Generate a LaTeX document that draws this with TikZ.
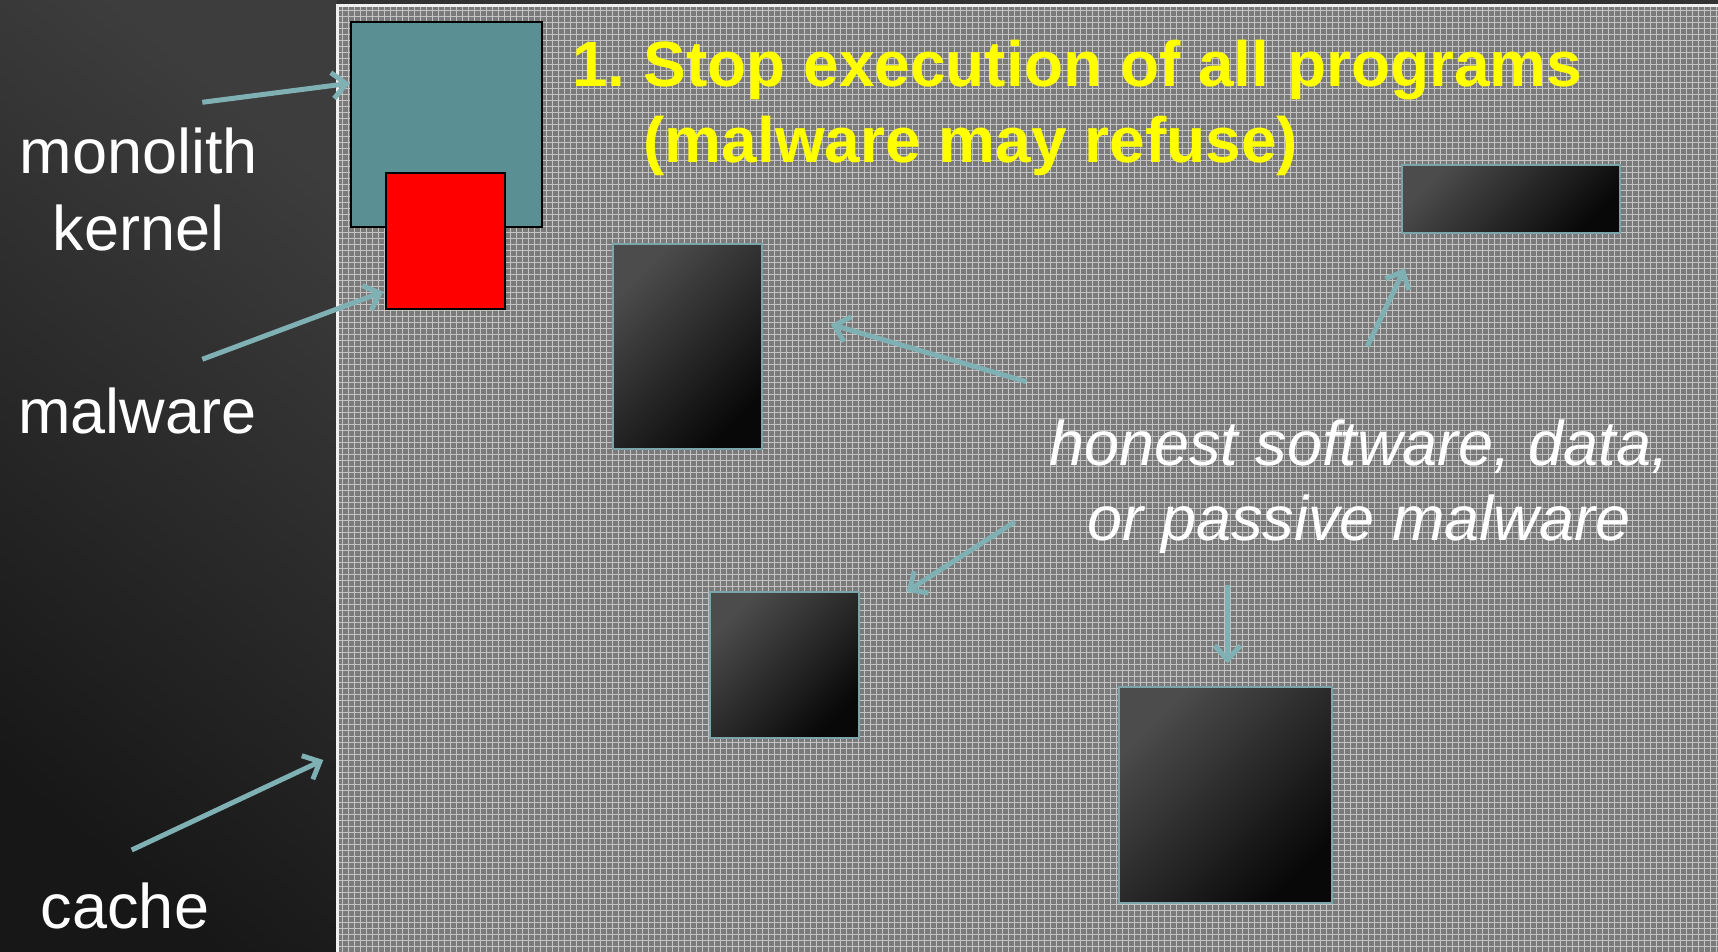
\documentclass[tikz,border=0pt]{standalone}
\usepackage{fontspec}
\setmainfont{Liberation Sans}
\usetikzlibrary{arrows.meta,patterns}
\definecolor{tealbox}{RGB}{90,143,147}
\definecolor{arrowc}{RGB}{127,176,180}
\definecolor{boxedge}{RGB}{122,166,170}
\definecolor{panelgray}{RGB}{122,122,122}
\definecolor{titley}{RGB}{255,255,0}
\tikzset{
  ptr/.style={draw=arrowc, line width=2.5pt, -{Straight Barb[length=7pt,width=13pt]}},
  darkbox/.style={draw=boxedge, line width=1pt, shading=axis, top color=black!70, middle color=black!80, bottom color=black!97, shading angle=45, inner sep=0pt},
  lbl/.style={text=white, font=\fontsize{31.5}{38.7}\selectfont, align=center, inner sep=0pt},
  ital/.style={text=white, font=\fontsize{31.5}{37.5}\selectfont\itshape, align=center, inner sep=0pt},
  ttl/.style={text=titley, font=\fontsize{32}{38.2}\selectfont\bfseries\frenchspacing, align=left, inner sep=0pt},
}
\begin{document}
\frenchspacing
\begin{tikzpicture}[x=0.5pt,y=-0.5pt]
\useasboundingbox (0,0) rectangle (1718,952);
% background
\shade[shading=axis, top color=black!76, bottom color=black!91, shading angle=-40] (0,0) rectangle (337,952);
\fill[black!80] (337,0) rectangle (1718,8);
% grey panel
\fill[panelgray] (337,6) rectangle (1730,960);
\fill[pattern=grid, pattern color=white!55!panelgray] (337,6) rectangle (1730,960);
\draw[white!88!gray, line width=1.5pt] (337,960) -- (337,6) -- (1730,6);
% kernel and malware
\node[draw=black, line width=1pt, fill=tealbox, minimum width=95.5pt, minimum height=102.5pt, inner sep=0pt] (kernel) at (446.5,124.5) {};
\node[draw=black, line width=1pt, fill=red, minimum width=59.5pt, minimum height=68pt, inner sep=0pt] (mal) at (445.5,241) {};
% dark boxes
\node[darkbox, minimum width=74.5pt, minimum height=102.5pt] (bA) at (687.5,346.5) {};
\node[darkbox, minimum width=109pt, minimum height=34pt] (bB) at (1511,199) {};
\node[darkbox, minimum width=74.5pt, minimum height=73pt] (bC) at (784.5,665) {};
\node[darkbox, minimum width=106.5pt, minimum height=108pt] (bD) at (1225.5,795) {};
% texts (anchor=base is the baseline of the last line)
\node[lbl, anchor=base] (tmono) at (138.7,250.7) {monolith\\kernel};
\node[lbl, anchor=base] (tmal) at (137.2,433.3) {malware};
\node[lbl, anchor=base] (tcache) at (125,928.3) {cache};
\node[ttl, anchor=base west] (title) at (572,163) {1. Stop execution of all programs\\\hphantom{1. }(malware may refuse)};
\node[ital, anchor=base] (thonest) at (1359,540) {honest software, data,\\or passive malware};
% arrow end points
\coordinate (m1) at (202.3,102.3); \coordinate (m2) at (350,83.3);
\coordinate (w1) at (202.3,359.3); \coordinate (w2) at (383.3,291.7);
\coordinate (c1) at (131.7,850); \coordinate (c2) at (323.3,760);
\coordinate (a1) at (1026.3,381.7); \coordinate (a2) at (830.7,324.3);
\coordinate (b1) at (1367.4,346.2); \coordinate (b2) at (1404.7,268.4);
\coordinate (e1) at (1015,521.7); \coordinate (e2) at (906.5,591.7);
\coordinate (d1) at (1227.5,585); \coordinate (d2) at (1227.5,663.3);
\draw[ptr] (m1) -- (m2);
\draw[ptr] (w1) -- (w2);
\draw[ptr] (c1) -- (c2);
\draw[ptr] (a1) -- (a2);
\draw[ptr] (b1) -- (b2);
\draw[ptr] (e1) -- (e2);
\draw[ptr] (d1) -- (d2);
\end{tikzpicture}
\end{document}
